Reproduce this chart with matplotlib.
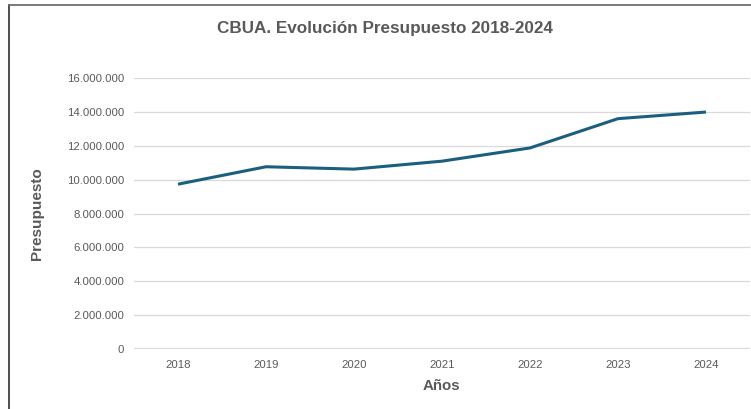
import matplotlib.pyplot as plt
from matplotlib.lines import Line2D
from matplotlib.ticker import FuncFormatter

years = ["2018", "2019", "2020", "2021", "2022", "2023", "2024"]
presupuesto = [9730000, 10760000, 10620000, 11090000, 11870000, 13600000, 13990000]
y_ticks = [0, 2000000, 4000000, 6000000, 8000000, 10000000, 12000000, 14000000, 16000000]

plt.rcParams['font.family'] = ['Liberation Sans', 'DejaVu Sans']

W, H = 751, 409
fig = plt.figure(figsize=(W / 100, H / 100), dpi=100)
ax = fig.add_axes([134 / W, 1 - 349 / H, (750 - 134) / W, (349 - 78) / H])

x = list(range(len(years)))
ax.plot(x, presupuesto, color="#1b5f7f", linewidth=2.2, solid_capstyle="butt")

ax.set_xlim(-0.5, len(years) - 0.5)
ax.set_ylim(0, 16000000)
ax.set_xticks(x)
ax.set_xticklabels(years)
ax.set_yticks(y_ticks)
ax.yaxis.set_major_formatter(FuncFormatter(lambda v, p: f"{int(v):,}".replace(",", ".")))
ax.tick_params(length=0, labelsize=8.2, labelcolor="#595959", pad=8)
ax.tick_params(axis="y", pad=7)

ax.grid(True, axis='y', color="#d9d9d9", linewidth=0.9)
ax.axhline(0, color="#d9d9d9", linewidth=1.6, zorder=0.5)
ax.set_axisbelow(True)
for s in ax.spines.values():
    s.set_visible(False)

fig.text(385 / W, 1 - 28 / H, "CBUA. Evolución Presupuesto 2018-2024", ha="center", va="center",
         fontsize=12.3, fontweight="bold", color="#595959")
fig.text(441 / W, 1 - 386 / H, "Años", ha="center", va="center",
         fontsize=10.8, fontweight="bold", color="#595959")
fig.text(37 / W, 1 - 214 / H, "Presupuesto", ha="center", va="center", rotation=90,
         fontsize=11, fontweight="bold", color="#595959")

# chart frame (only top and left edges visible)
fig.add_artist(Line2D([9 / W, 9 / W], [0, 1 - 5 / H], color="#404040", linewidth=1.3))
fig.add_artist(Line2D([9 / W, 1], [1 - 5 / H, 1 - 5 / H], color="#707070", linewidth=1.3))

fig.savefig("out.png", dpi=100)
